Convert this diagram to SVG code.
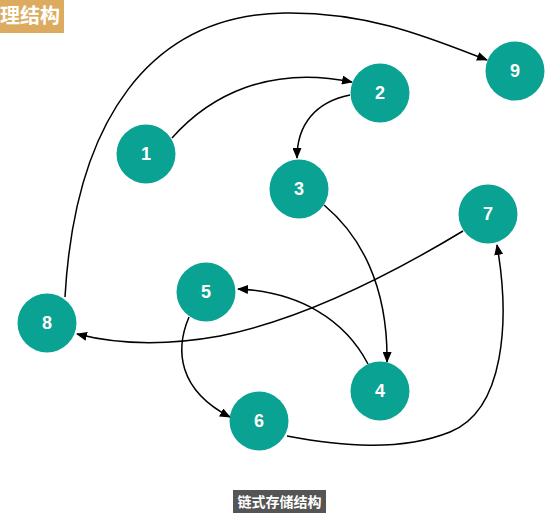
<svg xmlns="http://www.w3.org/2000/svg" width="558" height="525" viewBox="0 0 558 525">
<style>
.node circle{fill:#0aa293}
.node text{fill:#fff;font-family:"Liberation Sans",Arial,sans-serif;font-weight:bold;font-size:18px;text-anchor:middle;dominant-baseline:central}
.edge{fill:none;stroke:#000;stroke-width:1.5;marker-end:url(#arr)}
.lbl{fill:#fff;font-family:"Noto Sans CJK SC",sans-serif;font-weight:bold}
</style>
<defs>
<marker id="arr" markerUnits="userSpaceOnUse" markerWidth="11" markerHeight="9" refX="10" refY="4.5" orient="auto">
<path d="M0,0 L11,4.5 L0,9 z" fill="#000"/>
</marker>
</defs>
<rect width="558" height="525" fill="#fff"/>
<g id="title-top">
<rect x="0" y="0" width="64" height="33" fill="#dcab5f"/>
<text class="lbl" x="0" y="23" font-size="20">理结构</text>
</g>
<g id="connectors">
<path class="edge" d="M65,297 C75,120 150,15 285,13 C370,12 430,38 487,60"/>
<path class="edge" d="M172,138 C210,95 270,65 352,82"/>
<path class="edge" d="M350,95 C315,102 297,125 297,158"/>
<path class="edge" d="M324,205 C360,235 388,285 387,362"/>
<path class="edge" d="M368,364 C345,320 300,292 238,289"/>
<path class="edge" d="M463,231 C390,275 300,320 220,336 C170,345 120,345 77,334"/>
<path class="edge" d="M189,317 C175,350 178,390 230,417"/>
<path class="edge" d="M287,436 C340,446 400,452 450,432 C505,410 510,320 497,245"/>
</g>
<g id="n1" class="node"><circle cx="146" cy="154" r="29.5"/><text x="146" y="154">1</text></g>
<g id="n2" class="node"><circle cx="380" cy="93" r="29.5"/><text x="380" y="93">2</text></g>
<g id="n3" class="node"><circle cx="299" cy="189" r="29.5"/><text x="299" y="189">3</text></g>
<g id="n4" class="node"><circle cx="380" cy="391" r="29.5"/><text x="380" y="391">4</text></g>
<g id="n5" class="node"><circle cx="206" cy="292" r="29.5"/><text x="206" y="292">5</text></g>
<g id="n6" class="node"><circle cx="259" cy="421" r="29.5"/><text x="259" y="421">6</text></g>
<g id="n7" class="node"><circle cx="488" cy="214" r="29.5"/><text x="488" y="214">7</text></g>
<g id="n8" class="node"><circle cx="47" cy="323" r="29.5"/><text x="47" y="323">8</text></g>
<g id="n9" class="node"><circle cx="515" cy="71" r="29.5"/><text x="515" y="71">9</text></g>
<g id="caption">
<rect x="233" y="490" width="93" height="23" fill="#555"/>
<text class="lbl" x="279.5" y="507" font-size="14" text-anchor="middle">链式存储结构</text>
</g>
</svg>
